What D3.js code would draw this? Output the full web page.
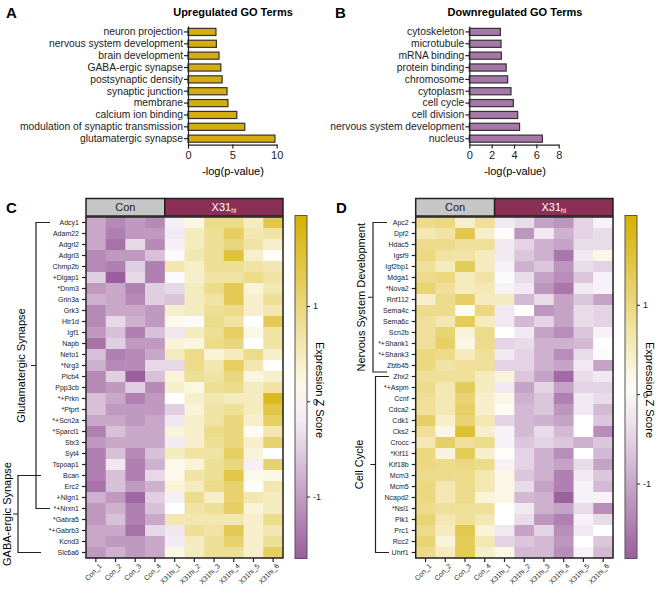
<!DOCTYPE html>
<html>
<head>
<meta charset="utf-8">
<script src="https://cdn.jsdelivr.net/npm/d3@7"></script>
<style>
body { margin: 0; background: #fff; }
svg { font-family: "Liberation Sans", Arial, sans-serif; }
</style>
</head>
<body>
<svg id="fig" width="667" height="596"></svg>
<script>
// GO term bars
const upTerms = ["neuron projection", "nervous system development", "brain development", "GABA-ergic synapse",
    "postsynaptic density", "synaptic junction", "membrane", "calcium ion binding",
    "modulation of synaptic transmission", "glutamatergic synapse"];
const upValues = [3.15, 3.2, 3.5, 3.7, 3.85, 4.4, 4.5, 5.5, 6.4, 9.8];

const downTerms = ["cytoskeleton", "microtubule", "mRNA binding", "protein binding", "chromosome",
    "cytoplasm", "cell cycle", "cell division", "nervous system development", "nucleus"];
const downValues = [2.78, 2.84, 2.87, 3.3, 3.43, 3.73, 3.94, 4.33, 4.5, 6.54];

// heatmaps
const samples = ["Con_1", "Con_2", "Con_3", "Con_4", "X31hi_1", "X31hi_2", "X31hi_3", "X31hi_4", "X31hi_5", "X31hi_6"];
const sampleGroups = [
    {name: "Con", first: "Con_1", last: "Con_4"},
    {name: "X31", sub: "hi", first: "X31hi_1", last: "X31hi_6"}
];

const cGenes = ["Adcy1", "Adam22", "Adgrl2", "Adgrl3", "Chmp2b", "+Dlgap1", "*Dnm3", "Grin3a", "Grk3", "Htr1d",
    "Igf1", "Napb", "Neto1", "*Nrg3", "Plcb4", "Ppp3cb", "*+Prkn", "*Ptprt", "*+Scn2a", "*Sparcl1", "Stx3",
    "Syt4", "Tspoap1", "Bcan", "Erc2", "+Nlgn1", "*+Nrxn1", "*Gabra5", "*+Gabrb3", "Kcnd3", "Slc6a6"];
const cValues = [
    [-0.9, -1.2, -1.05, -1.2, -0.15, 0.2, 0.9, 0.9, 0.5, 1.4],
    [-0.9, -1.3, -1.05, -1.05, -0.2, 0.5, 0.8, 1.2, 0.6, 0.7],
    [-0.9, -1.45, -0.4, -1.2, -0.15, 0.5, 0.8, 1.0, 0.7, 0.4],
    [-1.2, -1.05, -1.05, -0.65, -0.05, 0.6, 0.8, 1.5, 0.4, 0.05],
    [-1.2, -1.3, -0.5, -1.3, 0.6, 0.4, 0.8, 0.8, 0.7, 0.6],
    [-0.5, -1.65, -0.4, -1.3, -0.05, 0.4, 0.7, 0.7, 0.9, 0.7],
    [-1.05, -0.9, -1.3, -0.5, -0.4, 0.5, 0.9, 1.3, 0.3, 0.6],
    [-0.8, -0.9, -1.2, -0.5, -0.6, 0.5, 0.7, 1.3, 0.4, 0.8],
    [-1.2, -0.9, -0.9, -1.05, 0.4, 0.5, 0.8, 0.9, 0.4, 0.6],
    [-1.2, -0.4, -0.8, -1.05, 0.15, -0.05, 0.9, 0.7, 0.0, 1.3],
    [-1.05, -0.65, -1.3, -0.65, -0.25, 0.5, 0.8, 1.2, 0.2, 0.7],
    [-1.45, -0.5, -1.05, -1.05, 0.3, 0.25, 0.9, 1.0, 0.0, 0.7],
    [-0.65, -1.3, -1.2, -0.9, 0.5, 0.9, 0.3, 0.5, 0.9, 0.4],
    [-0.8, -1.2, -1.2, -0.4, -0.4, 0.9, 0.6, 1.2, 0.6, 0.0],
    [-1.2, -0.5, -1.65, -0.65, 0.3, 0.8, 0.7, 1.0, 0.25, 0.4],
    [-1.2, -1.05, -0.5, -1.2, 0.4, 0.2, 0.8, 0.9, 0.5, 0.7],
    [-0.65, -0.9, -1.3, -1.05, 0.0, 0.4, 0.6, 0.5, 0.5, 1.7],
    [-0.65, -1.05, -1.05, -1.05, -0.5, 0.3, 0.7, 0.8, 0.5, 1.4],
    [-0.9, -0.9, -1.05, -0.9, -0.25, 0.4, 0.7, 1.0, 0.4, 1.2],
    [-1.3, -0.65, -0.9, -0.9, 0.3, 0.4, 0.9, 1.0, 0.1, 0.6],
    [-1.05, -0.9, -0.9, -0.9, -0.2, 0.4, 0.8, 1.0, 0.4, 1.1],
    [-1.3, -0.65, -1.2, -0.65, 0.5, 0.7, 0.7, 1.2, 0.3, 0.0],
    [-1.3, -0.25, -1.3, -0.8, 0.15, 0.3, 0.8, 1.0, -0.15, 1.1],
    [-1.3, -0.65, -1.3, -0.4, 0.15, 0.7, 0.8, 1.4, 0.15, 0.2],
    [-1.45, -0.65, -1.05, -0.8, 0.3, 0.5, 0.9, 1.1, 0.05, 0.6],
    [-0.8, -1.05, -1.55, -0.5, -0.15, 0.9, 0.4, 1.1, 0.6, 0.5],
    [-1.05, -0.8, -1.3, -0.65, 0.0, 0.7, 0.8, 1.2, 0.3, 0.5],
    [-1.05, -0.65, -1.3, -0.9, 0.6, 0.6, 0.6, 0.6, 0.4, 0.9],
    [-0.9, -0.9, -1.45, -0.4, -0.25, 0.8, 0.7, 1.3, 0.4, 0.6],
    [-0.9, -1.05, -1.05, -0.9, -0.2, 0.5, 0.8, 1.1, 0.4, 0.8],
    [-1.05, -0.8, -1.05, -0.9, 0.2, 0.5, 0.8, 0.8, 0.4, 1.2]
];
const cBrackets = [
    {name: "Glutamatergic Synapse", first: "Adcy1", last: "*+Nrxn1"},
    {name: "GABA-ergic Synapse", first: "Bcan", last: "Slc6a6"}
];

const dGenes = ["Apc2", "Dpf2", "Hdac5", "Igsf9", "Igf2bp1", "Mdga1", "*Nova2", "Rnf112", "Sema4c", "Sema6c",
    "Scn2b", "*+Shank1", "*+Shank3", "Zbtb45", "Zhx2", "*+Aspm", "Ccnf", "Cdca2", "Cdk1", "Cks2", "Crocc",
    "*Kif11", "Kif18b", "Mcm3", "Mcm5", "Ncapd2", "*Nsl1", "Plk1", "Prc1", "Rcc2", "Uhrf1"];
const dValues = [
    [0.9, 1.0, 0.4, 0.8, -0.25, -0.4, -1.05, -1.2, -0.5, -0.15],
    [0.6, 0.7, 1.4, 0.4, 0.05, -1.2, -0.25, -0.9, -0.5, -0.4],
    [0.9, 0.9, 0.8, 0.8, -0.25, -0.5, -0.9, -1.05, -0.4, -0.4],
    [1.0, 0.7, 0.7, 0.5, -0.25, -0.65, -0.9, -1.55, -0.25, 0.2],
    [0.8, 0.5, 1.3, 0.5, -0.15, -0.9, -0.65, -1.2, -0.4, -0.5],
    [0.9, 1.0, 0.5, 0.7, -0.05, -0.4, -1.05, -1.3, -0.65, -0.15],
    [1.1, 0.8, 0.5, 0.6, -0.15, -0.25, -1.2, -1.55, -0.25, -0.15],
    [0.4, 0.9, 1.2, 0.5, 0.5, -0.8, -0.4, -1.05, -0.65, -1.05],
    [0.9, 0.9, 0.1, 1.0, -0.25, 0.0, -1.2, -1.05, -0.4, -0.5],
    [0.8, 0.6, 1.3, 0.5, -0.25, -0.8, -0.5, -1.05, -0.4, -0.5],
    [0.8, 1.1, 0.3, 0.9, 0.0, -0.25, -1.05, -1.3, -0.65, -0.15],
    [0.8, 1.2, 0.2, 0.9, -0.5, -0.4, -0.9, -0.9, -0.8, 0.0],
    [1.0, 0.9, 0.5, 0.8, -0.25, -0.5, -0.9, -1.3, -0.4, -0.05],
    [1.0, 0.7, 0.8, 0.8, -0.5, -0.5, -0.9, -1.05, -0.25, -1.05],
    [0.8, 0.8, 0.8, 0.5, 0.3, -0.65, -1.05, -1.7, -0.4, -0.25],
    [0.9, 0.6, 1.3, 0.5, -0.25, -1.05, -0.5, -1.05, -0.5, -0.5],
    [0.8, 0.6, 1.1, 0.4, 0.2, -0.9, -0.65, -1.45, -0.25, -0.4],
    [0.8, 0.6, 1.2, 0.4, 0.1, -0.8, -0.65, -1.2, -0.25, -0.8],
    [1.2, 0.4, 1.1, 0.6, -0.5, -0.8, -0.9, -1.05, 0.0, -0.65],
    [0.8, 0.2, 1.6, 0.4, -0.15, -0.8, -0.4, -0.8, 0.0, -1.3],
    [0.6, 1.2, 0.8, 0.9, -0.15, -0.65, -0.5, -0.65, -0.9, -0.65],
    [1.0, 0.3, 1.3, 0.4, 0.05, -0.5, -0.9, -1.3, 0.0, -0.8],
    [1.0, 0.9, 1.0, 0.9, -0.15, -0.5, -0.9, -1.05, -0.4, -1.05],
    [0.9, 0.9, 0.9, 0.6, 0.2, -0.65, -0.9, -1.45, -0.25, -0.65],
    [1.0, 0.6, 0.9, 0.6, 0.2, -0.4, -1.05, -1.45, -0.15, -0.8],
    [1.0, 0.6, 0.9, 0.3, 0.2, -0.8, -0.9, -1.8, -0.15, -0.15],
    [0.9, 0.8, 0.8, 0.8, 0.0, -0.25, -0.9, -1.05, -0.4, -1.3],
    [1.1, 0.6, 0.8, 0.6, 0.0, -0.4, -1.2, -1.45, -0.15, -0.4],
    [0.9, 0.5, 1.4, 0.3, -0.25, -1.05, -0.5, -1.3, -0.25, 0.0],
    [1.1, 0.3, 1.3, 0.6, -0.5, -0.65, -0.8, -1.2, 0.0, -0.65],
    [0.9, 0.5, 1.3, 0.4, 0.2, -0.8, -0.8, -1.3, -0.15, -0.8]
];
const dBrackets = [
    {name: "Nervous System Development", first: "Apc2", last: "Zhx2", edge: true},
    {name: "Cell Cycle", first: "Zhx2", last: "Uhrf1"}
];

const zTicks = [-1, 0, 1];
const gold = "#d6b000", purple = "#9a5e9c";

const svg = d3.select("#fig");

function panelLetter(letter, x, y) {
    svg.append("text").attr("x", x).attr("y", y)
        .attr("font-size", 15).attr("font-weight", "bold").text(letter);
}

function barPanel(opt) {
    const g = svg.append("g");
    const y = d3.scaleBand().domain(opt.terms).range([26, 144.6]).paddingInner(0.4).paddingOuter(0.2);
    const x = d3.scaleLinear().domain([0, opt.max]).range([opt.x0, opt.x1]);

    g.selectAll("rect")
        .data(opt.terms)
        .join("rect")
        .attr("x", x(0))
        .attr("y", d => y(d))
        .attr("width", (d, i) => x(opt.values[i]) - x(0))
        .attr("height", y.bandwidth())
        .attr("fill", opt.color)
        .attr("stroke", "#333")
        .attr("stroke-width", 1.2);

    const yAxis = g.append("g")
        .attr("color", "#222")
        .attr("transform", `translate(${opt.x0},0)`)
        .call(d3.axisLeft(y).tickSize(4).tickSizeOuter(0));
    yAxis.selectAll("text").attr("font-size", 10.3).attr("dx", "2px");

    const xAxis = g.append("g")
        .attr("color", "#222")
        .attr("transform", "translate(0,144.6)")
        .call(d3.axisBottom(x).tickValues(opt.ticks).tickSize(4).tickSizeOuter(0));
    xAxis.selectAll("text").attr("font-size", 11);
    g.selectAll(".domain, .tick line").attr("stroke-width", 1.2);

    g.append("text")
        .attr("x", opt.titleX).attr("y", 16)
        .attr("text-anchor", "middle").attr("font-size", 11).attr("font-weight", "bold")
        .text(opt.title);
    g.append("text")
        .attr("x", opt.titleX).attr("y", 175)
        .attr("text-anchor", "middle").attr("font-size", 11)
        .text("-log(p-value)");
}

function heatPanel(opt) {
    const g = svg.append("g");
    const x = d3.scaleBand().domain(samples).range([opt.x0, opt.x1]);
    const y = d3.scaleBand().domain(opt.genes).range([217, 558]);
    const color = d3.scaleLinear().domain([opt.lo, 0, opt.hi]).range([purple, "#ffffff", gold]);

    const cells = opt.values.flatMap((row, i) => row.map((v, j) => ({gene: opt.genes[i], sample: samples[j], v})));
    g.selectAll("rect.cell")
        .data(cells)
        .join("rect")
        .attr("class", "cell")
        .attr("x", d => x(d.sample))
        .attr("y", d => y(d.gene))
        .attr("width", x.bandwidth() + 0.5)
        .attr("height", y.bandwidth() + 0.5)
        .attr("fill", d => color(d.v));

    g.append("rect")
        .attr("x", opt.x0).attr("y", 217)
        .attr("width", opt.x1 - opt.x0).attr("height", 341)
        .attr("fill", "none").attr("stroke", "#222").attr("stroke-width", 1.5);

    // group header
    sampleGroups.forEach(grp => {
        const gx0 = x(grp.first), gx1 = x(grp.last) + x.bandwidth();
        const dark = grp.name !== "Con";
        g.append("rect")
            .attr("x", gx0).attr("y", 198.5)
            .attr("width", gx1 - gx0).attr("height", 17.5)
            .attr("fill", dark ? "#8a2f55" : "#c6c6c6")
            .attr("stroke", "#222").attr("stroke-width", 1.5);
        const t = g.append("text")
            .attr("x", (gx0 + gx1) / 2).attr("y", 211)
            .attr("text-anchor", "middle").attr("font-size", 11)
            .attr("fill", dark ? "#fff" : "#222")
            .text(grp.name);
        if (grp.sub) t.append("tspan").attr("font-size", 6.5).attr("dy", 2).text(grp.sub);
    });

    const yAxis = g.append("g")
        .attr("color", "#222")
        .attr("transform", `translate(${opt.x0},0)`)
        .call(d3.axisLeft(y).tickSize(4).tickSizeOuter(0));
    yAxis.selectAll("text").attr("font-size", 7);

    const xAxis = g.append("g")
        .attr("color", "#222")
        .attr("transform", "translate(0,558)")
        .call(d3.axisBottom(x).tickSize(4).tickSizeOuter(0));
    xAxis.selectAll("text")
        .attr("font-size", 7)
        .attr("text-anchor", "end")
        .attr("dx", "-0.2em").attr("dy", "0.5em")
        .attr("transform", "rotate(-45)");
    g.selectAll(".domain").remove();
    g.selectAll(".tick line").attr("stroke-width", 1.2);

    // brackets
    opt.brackets.forEach((b, i) => {
        const bs = opt.bracketPos[i];
        const y1 = y(b.first) + y.bandwidth() / 2;
        const y2 = b.edge ? y(b.last) + 1 : y(b.last) + y.bandwidth() / 2;
        const ym = (y1 + y2) / 2;
        g.append("path")
            .attr("d", `M${bs.xe},${y1}H${bs.xv}V${y2}H${bs.xe}M${bs.xv},${ym}H${bs.xv - 5}`)
            .attr("fill", "none").attr("stroke", "#222").attr("stroke-width", 1.2);
        g.append("text")
            .attr("transform", `translate(${bs.lx},${ym}) rotate(-90)`)
            .attr("dy", "0.35em")
            .attr("text-anchor", "middle").attr("font-size", 11)
            .text(b.name);
    });

    // colour bar
    const zy = d3.scaleLinear().domain([opt.lo, opt.hi]).range([558.5, 215.5]);
    const gradId = "grad" + opt.id;
    const grad = svg.append("defs").append("linearGradient")
        .attr("id", gradId).attr("x1", 0).attr("y1", 1).attr("x2", 0).attr("y2", 0);
    d3.range(0, 1.0001, 0.1).forEach(t => {
        const v = opt.lo + t * (opt.hi - opt.lo);
        grad.append("stop").attr("offset", t).attr("stop-color", color(v));
    });
    g.append("rect")
        .attr("x", opt.cbx).attr("y", zy(opt.hi))
        .attr("width", 12).attr("height", zy(opt.lo) - zy(opt.hi))
        .attr("fill", `url(#${gradId})`)
        .attr("stroke", "#555").attr("stroke-width", 1);
    const zAxis = g.append("g")
        .attr("color", "#222")
        .attr("transform", `translate(${opt.cbx + 12},0)`)
        .call(d3.axisRight(zy).tickValues(zTicks).tickSize(3).tickFormat(d => String(d)));
    zAxis.select(".domain").remove();
    zAxis.selectAll("text").attr("font-size", 9);

    g.append("text")
        .attr("transform", `translate(${opt.cbx + 25},390) rotate(90)`)
        .attr("dy", "0.35em")
        .attr("text-anchor", "middle").attr("font-size", 11)
        .text("Expression Z Score");
}

panelLetter("A", 6, 18);
panelLetter("B", 335, 18);
panelLetter("C", 6, 213);
panelLetter("D", 336, 213);

barPanel({terms: upTerms, values: upValues, max: 10, ticks: [0, 5, 10], x0: 188, x1: 276.7,
    color: "#d5ae0e", title: "Upregulated GO Terms", titleX: 233});
barPanel({terms: downTerms, values: downValues, max: 8, ticks: [0, 2, 4, 6, 8], x0: 469.3, x1: 558.7,
    color: "#a677a9", title: "Downregulated GO Terms", titleX: 515});

heatPanel({id: "C", genes: cGenes, values: cValues, brackets: cBrackets,
    x0: 86, x1: 283, lo: -1.65, hi: 1.95, cbx: 295,
    bracketPos: [{xv: 36, xe: 50, lx: 21.5}, {xv: 18, xe: 41, lx: 7}]});
heatPanel({id: "D", genes: dGenes, values: dValues, brackets: dBrackets,
    x0: 415.7, x1: 613, lo: -1.84, hi: 2.0, cbx: 625,
    bracketPos: [{xv: 373, xe: 387, lx: 361}, {xv: 375.5, xe: 389, lx: 359}]});
</script>
</body>
</html>
